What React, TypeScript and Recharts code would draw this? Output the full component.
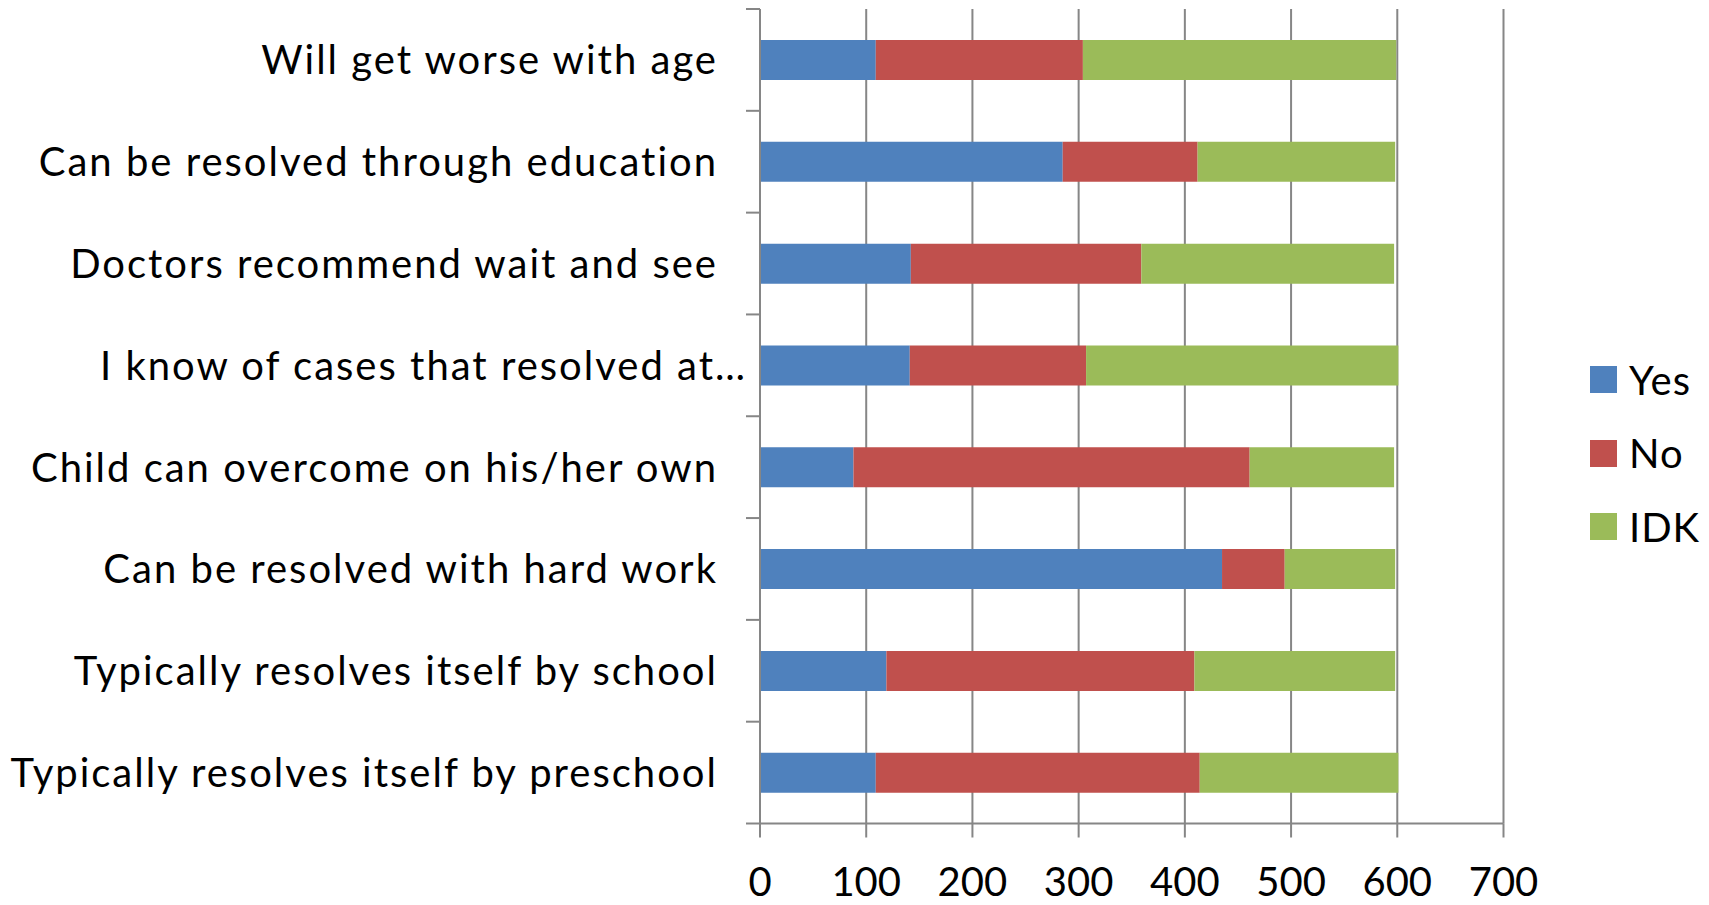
import React from "react";
import {
  BarChart,
  Bar,
  XAxis,
  YAxis,
  CartesianGrid,
  Legend,
} from "recharts";

const categories = [
  "Will get worse with age",
  "Can be resolved through education",
  "Doctors recommend wait and see",
  "I know of cases that resolved at…",
  "Child can overcome on his/her own",
  "Can be resolved with hard work",
  "Typically resolves itself by school",
  "Typically resolves itself by preschool",
];
const seriesNames = ["Yes", "No", "IDK"];
const yesValues = [109, 285, 142, 141, 88, 435, 119, 109];
const noValues = [195, 127, 217, 166, 373, 59, 290, 305];
const idkValues = [295, 186, 238, 294, 136, 104, 189, 187];
const xTicks = [0, 100, 200, 300, 400, 500, 600, 700];

const data = categories.map((name, i) => ({
  name,
  Yes: yesValues[i],
  No: noValues[i],
  IDK: idkValues[i],
}));

const FONT = "Lato, 'Open Sans', sans-serif";
const GRID = "#868686";

const CategoryTick = (props: any) => {
  const { x, y, payload, index, visibleTicksCount } = props;
  const half = payload && payload.offset != null ? payload.offset : 0;
  const axisX = x + 14;
  const value: string = payload.value;
  const truncated = value.endsWith("…");
  return (
    <g>
      <line x1={x} x2={axisX} y1={y - half} y2={y - half} stroke={GRID} strokeWidth={2} />
      {index === visibleTicksCount - 1 && (
        <line x1={x} x2={axisX} y1={y + half} y2={y + half} stroke={GRID} strokeWidth={2} />
      )}
      <text
        x={truncated ? x + 1 : x - 28}
        y={y}
        dy="0.36em"
        textAnchor="end"
        fontSize={40}
        fontFamily={FONT}
        letterSpacing={2}
        fill="#000"
      >
        {value}
      </text>
    </g>
  );
};

const renderLegend = (props: any) => {
  const payload: any[] = props.payload || [];
  const ordered = seriesNames
    .map((n) => payload.find((p: any) => p.value === n || p.dataKey === n))
    .filter(Boolean);
  return (
    <div style={{ fontFamily: FONT }}>
      {ordered.map((entry: any) => (
        <div
          key={entry.value}
          style={{ height: 73.5, display: "flex", alignItems: "center" }}
        >
          <div
            style={{
              width: 27,
              height: 27,
              background: entry.color,
              marginRight: 12,
            }}
          />
          <span style={{ fontSize: 40, color: "#000", lineHeight: 1, letterSpacing: 1 }}>
            {entry.value}
          </span>
        </div>
      ))}
    </div>
  );
};

export default function App() {
  return (
    <div style={{ position: "absolute", left: 0, top: 0, width: 1709, height: 905, background: "#fff" }}>
      <BarChart
        width={1709}
        height={905}
        data={data}
        layout="vertical"
        margin={{ top: 9, right: 205.5, bottom: 0, left: 0 }}
      >
        <CartesianGrid horizontal={false} stroke={GRID} strokeWidth={2} />
        <XAxis
          type="number"
          domain={[0, 700]}
          ticks={xTicks}
          interval={0}
          height={81.5}
          tickSize={14}
          tickMargin={30}
          axisLine={{ stroke: GRID, strokeWidth: 2 }}
          tickLine={{ stroke: GRID, strokeWidth: 2 }}
          tick={{ fontSize: 40, fontFamily: FONT, fill: "#000" }}
        />
        <YAxis
          type="category"
          dataKey="name"
          width={760}
          interval={0}
          tickSize={14}
          tickMargin={0}
          tickLine={false}
          axisLine={{ stroke: GRID, strokeWidth: 2 }}
          tick={<CategoryTick />}
        />
        <Legend
          layout="vertical"
          align="center"
          verticalAlign="middle"
          wrapperStyle={{ left: 1590, top: 343, width: 119 }}
          content={renderLegend}
        />
        <Bar dataKey="Yes" stackId="a" fill="#4F81BD" barSize={40} isAnimationActive={false} />
        <Bar dataKey="No" stackId="a" fill="#C0504D" barSize={40} isAnimationActive={false} />
        <Bar dataKey="IDK" stackId="a" fill="#9BBB59" barSize={40} isAnimationActive={false} />
      </BarChart>
    </div>
  );
}
